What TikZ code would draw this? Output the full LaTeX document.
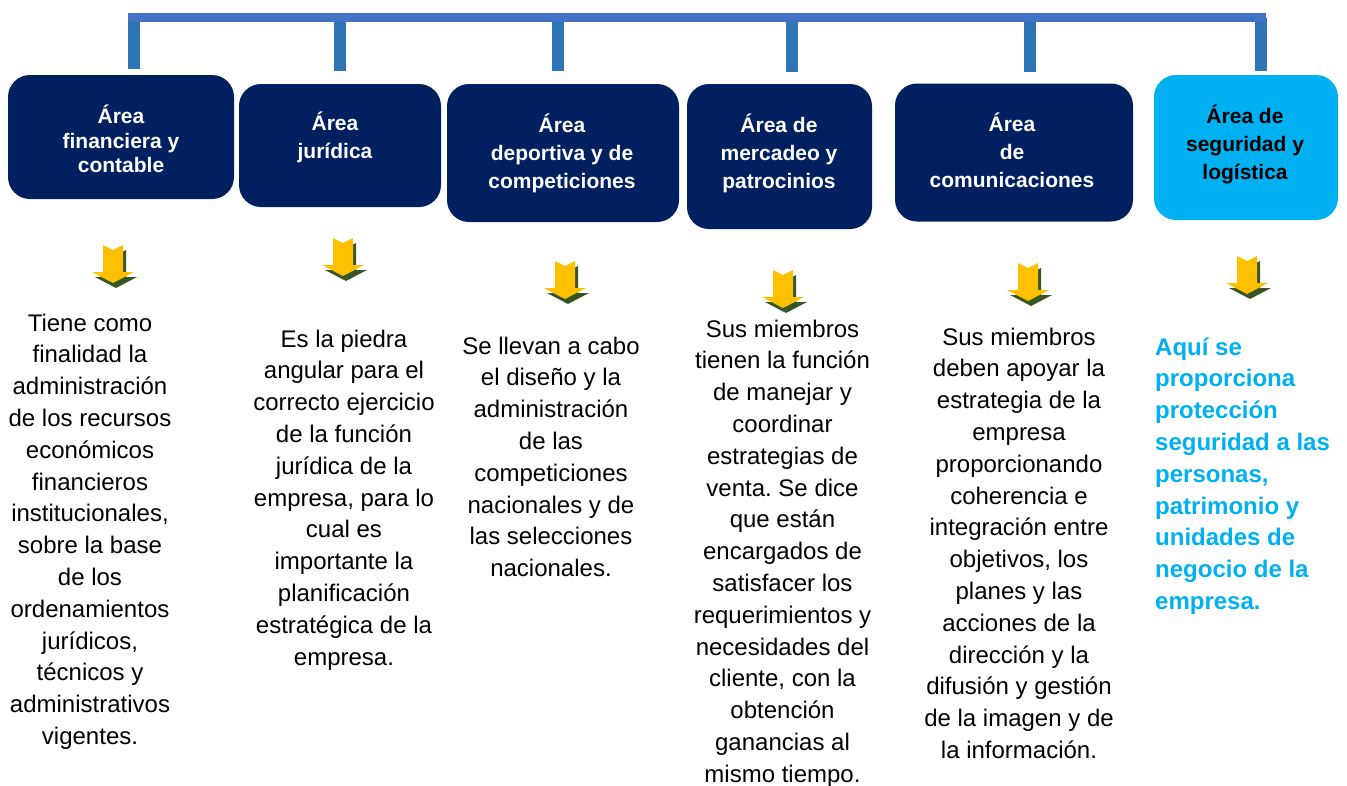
\documentclass[tikz,border=0pt]{standalone}
\usepackage{fontspec}
\setmainfont{Liberation Sans}
\frenchspacing
\definecolor{navy}{HTML}{002060}
\definecolor{cyanbox}{HTML}{00B0F0}
\definecolor{barblue}{HTML}{4472C4}
\definecolor{stemblue}{HTML}{2E75B6}
\definecolor{arrowyellow}{HTML}{FFC000}
\definecolor{arrowshadow}{HTML}{375623}
\begin{document}
\begin{tikzpicture}[x=1pt,y=-1pt,
  areabox/.style={fill=navy, draw=none, rounded corners=22pt, inner sep=0pt},
  lightbox/.style={fill=cyanbox, draw=none, rounded corners=22pt, inner sep=0pt},
  titletext/.style={text=white, font=\bfseries\fontsize{21}{28}\selectfont, align=center, inner sep=0pt, anchor=north},
  bodytext/.style={text=black, font=\fontsize{24}{31.8}\selectfont, align=center, inner sep=0pt, anchor=north},
  bar/.style={barblue, line width=9pt},
  stem/.style={stemblue, line width=12pt},
  downarr/.pic={
    \fill[arrowshadow] (-7,5) -- (3,10) -- (13,5) -- (13,32) -- (24,32) -- (3,43) -- (-18,32) -- (-7,32) -- cycle;
    \fill[arrowyellow] (-10,0) -- (0,5) -- (10,0) -- (10,27) -- (21,27) -- (0,38) -- (-21,27) -- (-10,27) -- cycle;
  }]
\useasboundingbox (0,0) rectangle (1347,785);

% connector coordinates
\coordinate (bl) at (128,17.5);
\coordinate (br) at (1266,17.5);
\coordinate (s1t) at (134,17.5);  \coordinate (s1b) at (134,69);
\coordinate (s2t) at (340,17.5);  \coordinate (s2b) at (340,71);
\coordinate (s3t) at (558,17.5);  \coordinate (s3b) at (558,71);
\coordinate (s4t) at (792,17.5);  \coordinate (s4b) at (792,72);
\coordinate (s5t) at (1030,17.5); \coordinate (s5b) at (1030,72);
\coordinate (s6t) at (1261,17.5); \coordinate (s6b) at (1261,71);
\foreach \i in {1,...,6} {\draw[stem] (s\i t) -- (s\i b);}
\draw[bar] (bl) -- (br);

% boxes
\node[areabox, minimum width=226pt, minimum height=124pt] (b1) at (121,137) {};
\node[areabox, minimum width=202pt, minimum height=123pt] (b2) at (340,145.5) {};
\node[areabox, minimum width=232pt, minimum height=138pt] (b3) at (563,153) {};
\node[areabox, minimum width=185pt, minimum height=145pt] (b4) at (779.5,156.5) {};
\node[areabox, minimum width=238pt, minimum height=138pt] (b5) at (1014,152.5) {};
\node[lightbox, minimum width=184pt, minimum height=145pt] (b6) at (1246,147.5) {};

% titles
\node[titletext, font=\bfseries\fontsize{21}{24.5}\selectfont] (h1) at (121,122-17.2) {\strut Área\\financiera y\\contable};
\node[titletext] (h2) at (335,130-19.6) {\strut Área\\jurídica};
\node[titletext] (h3) at (562,132-19.6) {\strut Área\\deportiva y de\\competiciones};
\node[titletext] (h4) at (779,132-19.6) {\strut Área de\\mercadeo y\\patrocinios};
\node[titletext] (h5) at (1012,131-19.6) {\strut Área\\de\\comunicaciones};
\node[titletext, text=black] (h6) at (1245,123-19.6) {\strut Área de\\seguridad y\\logística};

% arrows
\pic at (113,245) {downarr};
\pic at (343,238) {downarr};
\pic at (565,261) {downarr};
\pic at (783,270) {downarr};
\pic at (1028,263) {downarr};
\pic at (1247,256) {downarr};

% body texts
\node[bodytext] (t1) at (90,331-22.3) {\strut Tiene como\\finalidad la\\administración\\de los recursos\\económicos\\financieros\\institucionales,\\sobre la base\\de los\\ordenamientos\\jurídicos,\\técnicos y\\administrativos\\vigentes.};
\node[bodytext] (t2) at (344,347-22.3) {\strut Es la piedra\\angular para el\\correcto ejercicio\\de la función\\jurídica de la\\empresa, para lo\\cual es\\importante la\\planificación\\estratégica de la\\empresa.};
\node[bodytext] (t3) at (551,354-22.3) {\strut Se llevan a cabo\\el diseño y la\\administración\\de las\\competiciones\\nacionales y de\\las selecciones\\nacionales.};
\node[bodytext] (t4) at (782.5,337-22.3) {\strut Sus miembros\\tienen la función\\de manejar y\\coordinar\\estrategias de\\venta. Se dice\\que están\\encargados de\\satisfacer los\\requerimientos y\\necesidades del\\cliente, con la\\obtención\\ganancias al\\mismo tiempo.};
\node[bodytext] (t5) at (1019,345-22.3) {\strut Sus miembros\\deben apoyar la\\estrategia de la\\empresa\\proporcionando\\coherencia e\\integración entre\\objetivos, los\\planes y las\\acciones de la\\dirección y la\\difusión y gestión\\de la imagen y de\\la información.};
\node[bodytext, align=left, anchor=north west, text=cyanbox, font=\bfseries\fontsize{24}{31.8}\selectfont] (t6) at (1155,355-22.3) {\strut Aquí se\\proporciona\\protección\\seguridad a las\\personas,\\patrimonio y\\unidades de\\negocio de la\\empresa.};
\end{tikzpicture}
\end{document}
